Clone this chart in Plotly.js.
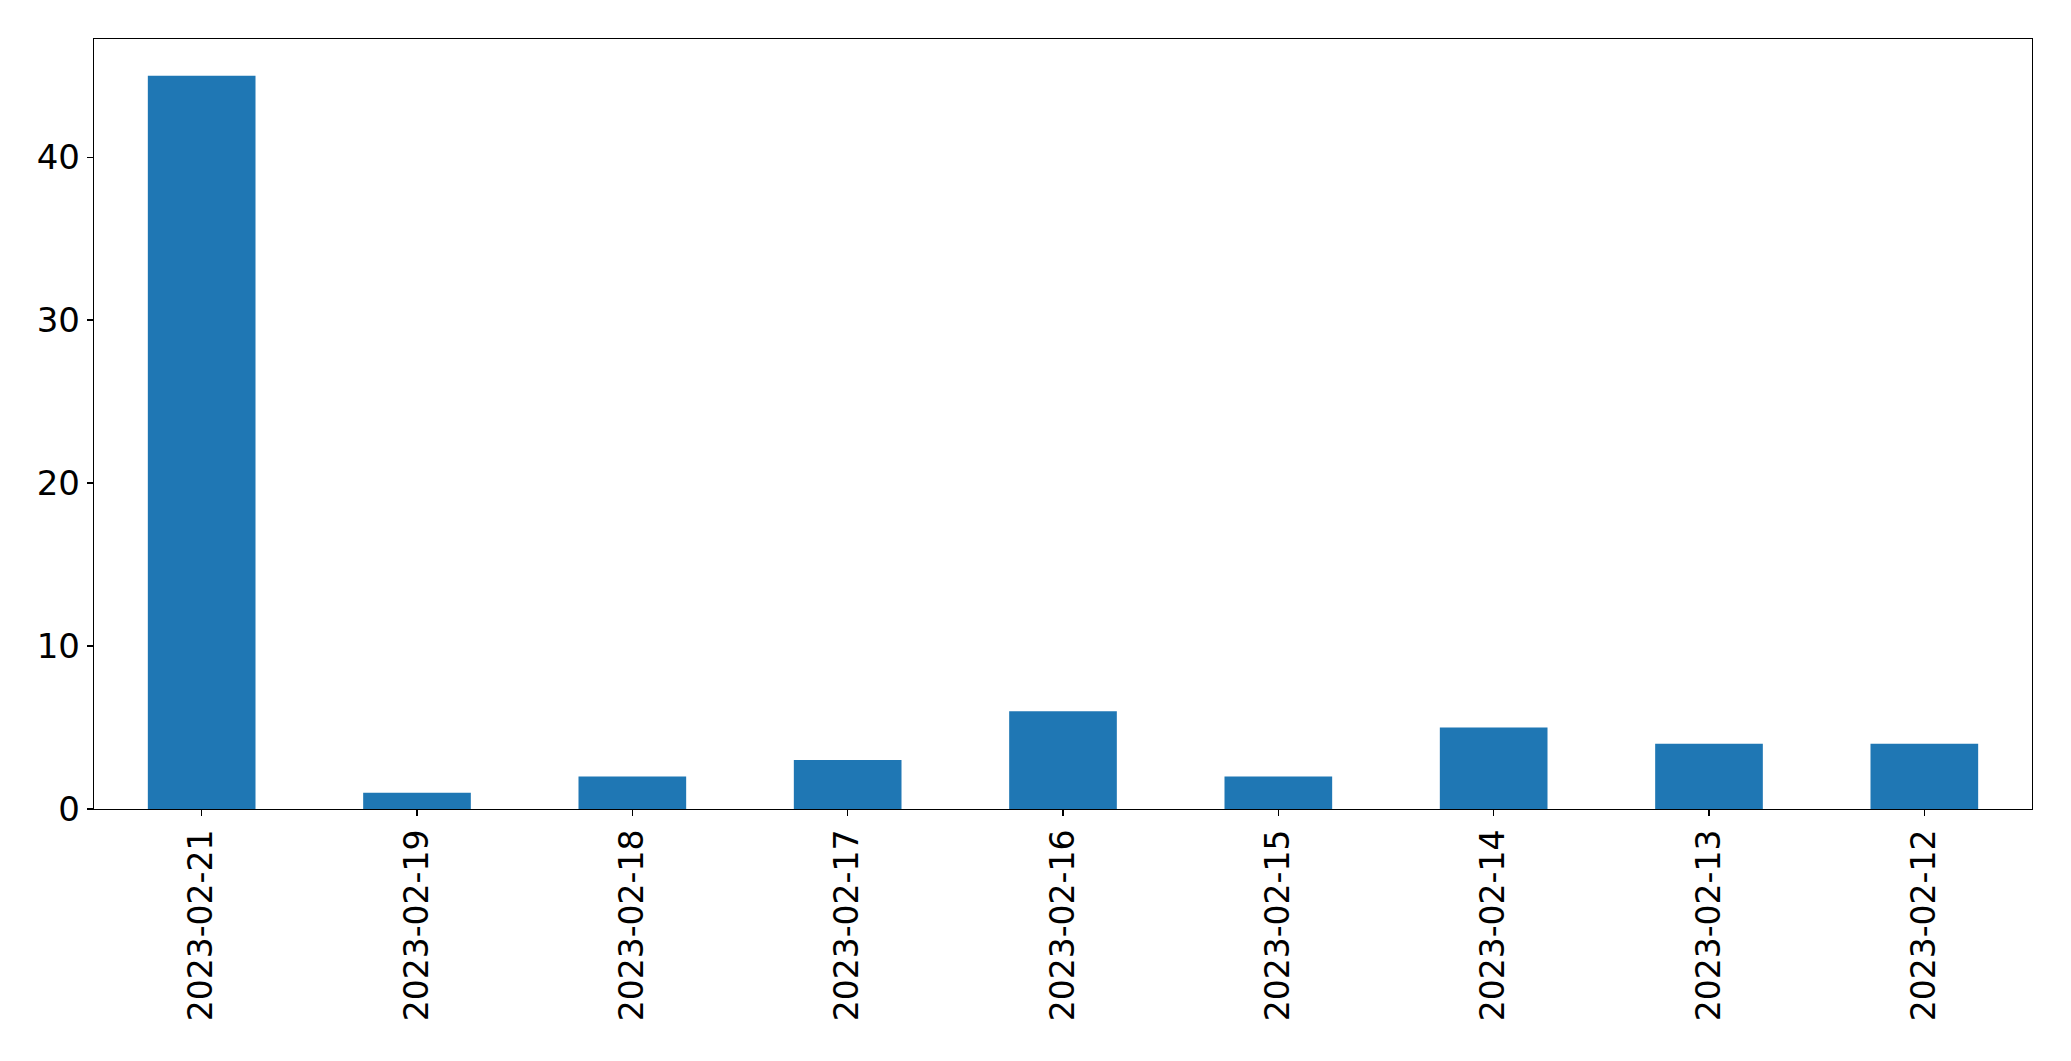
<!DOCTYPE html>
<html>
<head>
<meta charset="utf-8">
<script src="https://cdn.plot.ly/plotly-3.0.1.min.js"></script>
<style>html,body{margin:0;padding:0;background:#fff;}#chart{width:2071px;height:1061px;}</style>
</head>
<body>
<div id="chart"></div>
<script>
const categories = ["2023-02-21","2023-02-19","2023-02-18","2023-02-17","2023-02-16","2023-02-15","2023-02-14","2023-02-13","2023-02-12"];
const counts = [45, 1, 2, 3, 6, 2, 5, 4, 4];
const yTicks = [0, 10, 20, 30, 40];

const trace = {
  type: "bar",
  x: categories,
  y: counts,
  marker: {color: "#1f77b4", line: {width: 0}},
  hoverinfo: "x+y"
};

const layout = {
  width: 2071,
  height: 1061,
  margin: {l: 94, r: 39, t: 39, b: 252, pad: 0},
  paper_bgcolor: "#fff",
  plot_bgcolor: "#fff",
  bargap: 0.5,
  showlegend: false,
  font: {family: "DejaVu Sans", size: 33, color: "#000"},
  xaxis: {
    type: "category",
    range: [-0.5, 8.5],
    tickangle: -90,
    ticks: "outside",
    ticklen: 6,
    tickwidth: 1.3,
    tickcolor: "#000",
    showline: true,
    linecolor: "#000",
    linewidth: 1.3,
    mirror: true,
    showgrid: false,
    zeroline: false,
    tickfont: {family: "DejaVu Sans", size: 33, color: "#000"}
  },
  yaxis: {
    range: [0, 47.25],
    tickmode: "array",
    tickvals: yTicks,
    ticktext: yTicks.map(String),
    ticks: "outside",
    ticklen: 6,
    tickwidth: 1.3,
    tickcolor: "#000",
    showline: true,
    linecolor: "#000",
    linewidth: 1.3,
    mirror: true,
    showgrid: false,
    zeroline: false,
    tickfont: {family: "DejaVu Sans", size: 34, color: "#000"}
  }
};

Plotly.newPlot("chart", [trace], layout, {displayModeBar: false, staticPlot: true});
</script>
</body>
</html>
